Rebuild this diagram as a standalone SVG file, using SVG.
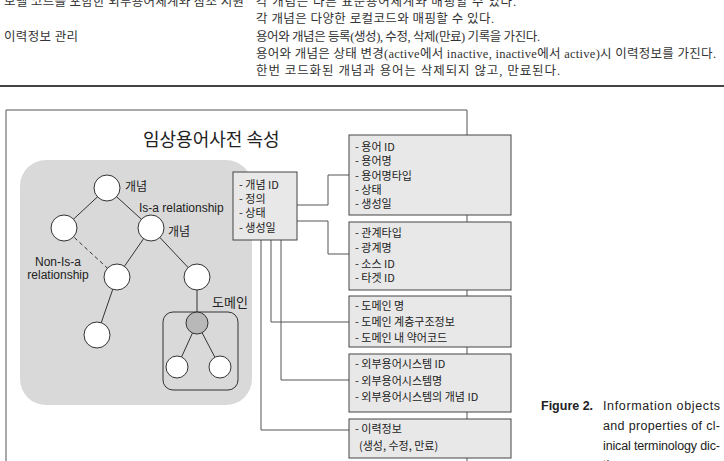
<svg xmlns="http://www.w3.org/2000/svg" width="724" height="461" viewBox="0 0 724 461">
<style>
.t{font-family:"Noto Sans CJK KR","Liberation Sans",sans-serif;font-size:12px;fill:#222}
.b{font-family:"Noto Sans CJK KR","Liberation Sans",sans-serif;font-size:11px;fill:#222}
.s{font-family:"Liberation Serif","Noto Sans CJK KR",serif;font-size:12.5px;fill:#333}
.c{fill:none;stroke:#333;stroke-width:1}
.n{fill:#e8e8e8;stroke:#444;stroke-width:1}
.l{fill:none;stroke:#555;stroke-width:1}
.cap{font-family:"Liberation Sans",sans-serif;font-size:12.5px;fill:#222}
</style>
<rect width="724" height="461" fill="#fff"/>
<g id="toptext">
<text class="s" x="4" y="6" textLength="240">모델 코드를 포함한 외부용어체계와 참조 지원</text>
<text class="s" x="256" y="6" textLength="260">각 개념은 다른 표준용어체계와 매핑할 수 있다.</text>
<text class="s" x="256" y="23" textLength="238">각 개념은 다양한 로컬코드와 매핑할 수 있다.</text>
<text class="s" x="4" y="41" textLength="74">이력정보 관리</text>
<text class="s" x="256" y="41" textLength="284">용어와 개념은 등록(생성), 수정, 삭제(만료) 기록을 가진다.</text>
<text class="s" x="256" y="58" textLength="460">용어와 개념은 상태 변경(active에서 inactive, inactive에서 active)시 이력정보를 가진다.</text>
<text class="s" x="256" y="75" textLength="304">한번 코드화된 개념과 용어는 삭제되지 않고, 만료된다.</text>
<rect x="0" y="85" width="724" height="2" fill="#444"/>
</g>
<g id="frame">
<path d="M6 470 V110 H467 V470" class="l"/>
<text class="t" x="143" y="146" style="font-size:18px">임상용어사전 속성</text>
</g>
<g id="concept-area">
<rect x="20" y="160" width="232" height="245" rx="26" fill="#d9d9d9"/>
<rect x="163" y="312" width="75" height="78" rx="10" class="c"/>
</g>
<g id="connectors">
<g class="c">
<line x1="107" y1="188" x2="64" y2="228"/>
<line x1="107" y1="188" x2="151" y2="228"/>
<line x1="151" y1="228" x2="117" y2="277"/>
<line x1="151" y1="228" x2="197" y2="277"/>
<line x1="117" y1="277" x2="97" y2="335"/>
<line x1="197" y1="277" x2="197" y2="323"/>
<line x1="197" y1="323" x2="177" y2="367"/>
<line x1="197" y1="323" x2="220" y2="367"/>
<line x1="64" y1="228" x2="117" y2="277" stroke-dasharray="4,3"/>
</g>
<g class="l">
<path d="M297 205 H328 V175 H349"/>
<path d="M297 221 H328 V254 H349"/>
<path d="M271 240 V322 H349"/>
<path d="M281 240 V380 H349"/>
<path d="M261 240 V430 H349"/>
</g>
</g>
<g id="circles" fill="#fff" stroke="#333">
<circle cx="107" cy="188" r="13"/>
<circle cx="64" cy="228" r="13"/>
<circle cx="151" cy="228" r="13"/>
<circle cx="117" cy="277" r="13"/>
<circle cx="197" cy="277" r="13"/>
<circle cx="97" cy="335" r="13"/>
<circle cx="197" cy="323" r="11" fill="#b8b8b8"/>
<circle cx="177" cy="367" r="11"/>
<circle cx="220" cy="367" r="11"/>
</g>
<g id="tree-labels" class="t">
<text x="125" y="191">개념</text>
<text x="139" y="212" style="font-family:'Liberation Sans',sans-serif">Is-a relationship</text>
<text x="168" y="236">개념</text>
<text x="58" y="266" text-anchor="middle" style="font-family:'Liberation Sans',sans-serif">Non-Is-a</text>
<text x="58" y="279" text-anchor="middle" style="font-family:'Liberation Sans',sans-serif">relationship</text>
<text x="212" y="307" style="font-size:13px">도메인</text>
</g>
<g id="node-concept">
<rect x="233" y="172" width="64" height="68" class="n"/>
<text class="b" x="239" y="189">- 개념 ID</text>
<text class="b" x="239" y="203">- 정의</text>
<text class="b" x="239" y="217">- 상태</text>
<text class="b" x="239" y="232">- 생성일</text>
</g>
<g id="node-term">
<rect x="349" y="135" width="162" height="80" class="n"/>
<text class="b" x="355" y="151">- 용어 ID</text>
<text class="b" x="355" y="165">- 용어명</text>
<text class="b" x="355" y="180">- 용어명타입</text>
<text class="b" x="355" y="194">- 상태</text>
<text class="b" x="355" y="208">- 생성일</text>
</g>
<g id="node-relation">
<rect x="349" y="222" width="162" height="68" class="n"/>
<text class="b" x="355" y="237">- 관계타입</text>
<text class="b" x="355" y="252">- 광계명</text>
<text class="b" x="355" y="268">- 소스 ID</text>
<text class="b" x="355" y="282">- 타겟 ID</text>
</g>
<g id="node-domain">
<rect x="349" y="296" width="162" height="51" class="n"/>
<text class="b" x="355" y="310">- 도메인 명</text>
<text class="b" x="355" y="326">- 도메인 계층구조정보</text>
<text class="b" x="355" y="342">- 도메인 내 약어코드</text>
</g>
<g id="node-external">
<rect x="349" y="354" width="162" height="58" class="n"/>
<text class="b" x="355" y="368">- 외부용어시스템 ID</text>
<text class="b" x="355" y="385">- 외부용어시스템명</text>
<text class="b" x="355" y="401">- 외부용어시스템의 개념 ID</text>
</g>
<g id="node-history">
<rect x="349" y="419" width="162" height="39" class="n"/>
<text class="b" x="355" y="433">- 이력정보</text>
<text class="b" x="359" y="450">(생성, 수정, 만료)</text>
</g>
<g id="caption" class="cap">
<text x="541" y="410"><tspan font-weight="bold">Figure  2.</tspan></text>
<text x="603" y="410" textLength="117">Information objects</text>
<text x="603" y="430" textLength="117">and properties of cl-</text>
<text x="603" y="450" textLength="117">inical terminology dic-</text>
<text x="603" y="469">tionary.</text>
</g>
</svg>
